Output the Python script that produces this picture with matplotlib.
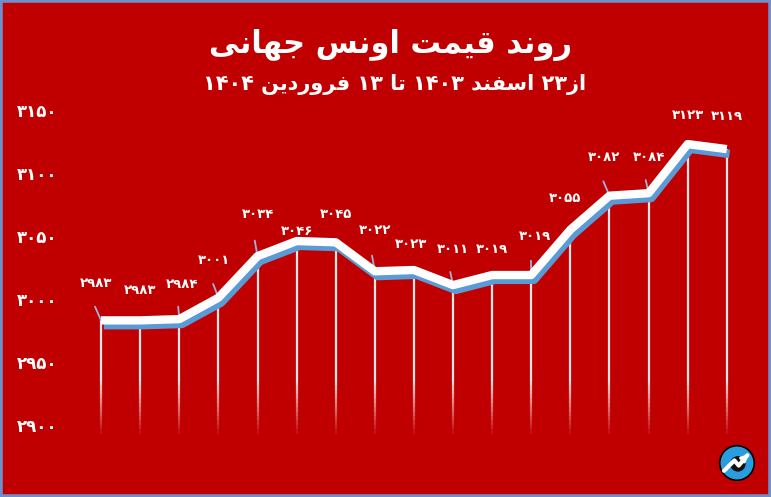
import re
import numpy as np
import matplotlib
matplotlib.use("Agg")
import matplotlib.pyplot as plt
import matplotlib.patheffects as pe
from matplotlib.patches import Rectangle, Circle
from matplotlib.collections import LineCollection

# ============ DATA ============
prices = [2983, 2983, 2984, 3001, 3034, 3046, 3045, 3022, 3023,
          3011, 3019, 3019, 3055, 3082, 3084, 3123, 3119]
yticks = [2900, 2950, 3000, 3050, 3100, 3150]
title = "روند قیمت اونس جهانی"
subtitle = "از۲۳ اسفند ۱۴۰۳ تا ۱۳ فروردین ۱۴۰۴"

# label offsets in points (dx, dy) and which labels get a leader line
lab_off = [(-4, -22), (0, -17), (2, -20), (-3, -22), (0, -25), (0, -2),
           (0, -15), (0, -25), (-2, -14), (0, -21), (0, -14), (3, -23),
           (-4, -18), (-4, -23), (0, -21), (0, -16), (0, -19)]
leader = [1, 0, 1, 1, 1, 0, 0, 1, 0, 1, 0, 1, 0, 1, 1, 0, 0]

BG = "#C00000"
FA_DIGITS = str.maketrans("0123456789", "۰۱۲۳۴۵۶۷۸۹")

# ---- minimal persian shaping (matplotlib has no RTL layout) ----
FORMS = {
    'ا': ('\uFE8D', '\uFE8E'), 'د': ('\uFEA9', '\uFEAA'),
    'ر': ('\uFEAD', '\uFEAE'), 'ز': ('\uFEAF', '\uFEB0'),
    'و': ('\uFEED', '\uFEEE'),
    'ت': ('\uFE95', '\uFE96', '\uFE97', '\uFE98'),
    'ج': ('\uFE9D', '\uFE9E', '\uFE9F', '\uFEA0'),
    'س': ('\uFEB1', '\uFEB2', '\uFEB3', '\uFEB4'),
    'ف': ('\uFED1', '\uFED2', '\uFED3', '\uFED4'),
    'ق': ('\uFED5', '\uFED6', '\uFED7', '\uFED8'),
    'م': ('\uFEE1', '\uFEE2', '\uFEE3', '\uFEE4'),
    'ن': ('\uFEE5', '\uFEE6', '\uFEE7', '\uFEE8'),
    'ه': ('\uFEE9', '\uFEEA', '\uFEEB', '\uFEEC'),
    'ی': ('\uFBFC', '\uFBFD', '\uFBFE', '\uFBFF'),
}


def shape(text):
    out = []
    for i, ch in enumerate(text):
        f = FORMS.get(ch)
        if f is None:
            out.append(ch)
            continue
        prev = text[i - 1] if i > 0 else ""
        nxt = text[i + 1] if i + 1 < len(text) else ""
        jp = prev in FORMS and len(FORMS[prev]) == 4
        jn = len(f) == 4 and nxt in FORMS
        if jp and jn:
            out.append(f[3])
        elif jp:
            out.append(f[1])
        elif jn:
            out.append(f[2])
        else:
            out.append(f[0])
    vis = "".join(reversed(out))
    return re.sub("[۰-۹]+", lambda m: m.group(0)[::-1], vis)


# ============ FIGURE ============
fig = plt.figure(figsize=(7.71, 4.97), dpi=100, facecolor=BG)
ax = fig.add_axes([62 / 771, 57 / 497, 698 / 771, 340 / 497])
ax.set_facecolor(BG)
x = np.arange(len(prices))
ax.set_xlim(-1.0, 16.85)
ax.set_ylim(2888, 3158)

# vertical drop lines, fading near the bottom
base, fade_top, n = 2893, 2935, 12
segs, cols = [], []
for xi, p in zip(x, prices):
    segs.append([(xi, p), (xi, fade_top)])
    cols.append((1, 1, 1, 0.9))
    edges = np.linspace(fade_top, base, n + 1)
    for k in range(n):
        segs.append([(xi, edges[k]), (xi, edges[k + 1])])
        cols.append((1, 1, 1, 0.9 * (1 - (k + 1) / (n + 1))))
ax.add_collection(LineCollection(segs, colors=cols, linewidths=1.6, zorder=1))

# data labels (under the line)
for i, (xi, p) in enumerate(zip(x, prices)):
    dx, dy = lab_off[i]
    ax.annotate(str(p).translate(FA_DIGITS), (xi, p), xytext=(dx, -dy),
                textcoords="offset points", ha="center", va="bottom",
                color="white", fontsize=9.5, fontweight="bold", zorder=2)
    if leader[i]:
        ax.annotate("", (xi, p), xytext=(dx * 0.6 - 2, -dy * 0.45),
                    textcoords="offset points", zorder=2,
                    arrowprops=dict(arrowstyle="-", color="#9fb4dc", lw=1.3,
                                    shrinkA=0, shrinkB=0))

# white line with blue shadow
ax.plot(x, prices, color="white", lw=6, solid_capstyle="butt", zorder=4,
        path_effects=[pe.SimpleLineShadow(offset=(2, -3.5), shadow_color="#5B9BD5",
                                          alpha=1.0),
                      pe.Normal()])

ax.set_yticks(yticks)
ax.set_yticklabels([str(v).translate(FA_DIGITS) for v in yticks],
                   color="white", fontsize=12, fontweight="bold")
ax.tick_params(axis="y", length=0, pad=3)
ax.set_xticks([])
for s in ax.spines.values():
    s.set_visible(False)

fig.text(0.506, 0.909, shape(title), ha="center", va="center",
         color="white", fontsize=22, fontweight="bold")
fig.text(0.512, 0.829, shape(subtitle), ha="center", va="center",
         color="white", fontsize=15, fontweight="bold")

# frame
fig.add_artist(Rectangle((0, 0), 1, 1, transform=fig.transFigure, fill=False,
                         edgecolor="#6d8fca", lw=4))

# logo bottom right
lax = fig.add_axes([718 / 771, 15 / 497, 38 / 771, 38 / 497])
lax.set_xlim(-1.1, 1.1)
lax.set_ylim(-1.1, 1.1)
lax.set_aspect("equal")
lax.axis("off")
lax.add_patch(Circle((0, 0), 1, fc="#2a9de0", ec="black", lw=1.2))
lax.add_patch(Circle((0.05, -0.05), 0.45, fc="#111111", ec="none"))
lax.plot([-0.75, -0.15, 0.1, 0.6], [-0.45, 0.15, -0.15, 0.45], color="white",
         lw=3, solid_capstyle="round")
lax.annotate("", (0.8, 0.62), xytext=(0.45, 0.3),
             arrowprops=dict(arrowstyle="-|>", color="white", lw=2))

fig.savefig("out.png", dpi=100, facecolor=BG)
